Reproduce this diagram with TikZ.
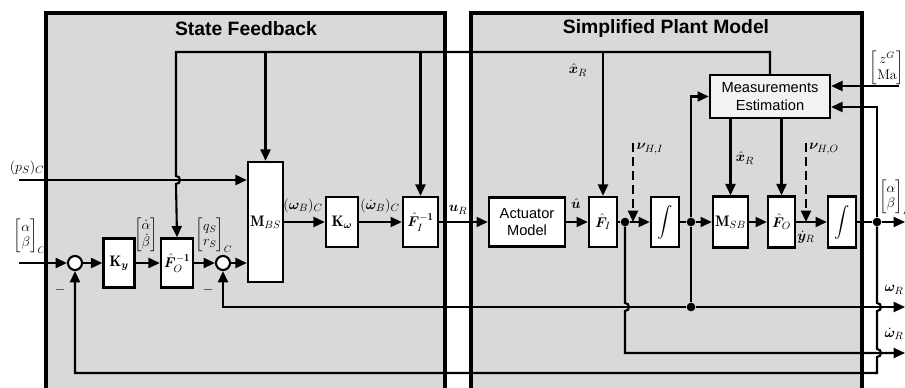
\documentclass[tikz,border=0pt]{standalone}
\usepackage{amsmath, amssymb, bm}
\usepackage{fontspec}
\newfontfamily\labelfont{Liberation Sans}
\usepackage{tikz}
\usetikzlibrary{arrows.meta, positioning}

\begin{document}
\begin{tikzpicture}[
  x=0.3mm, y=-0.3mm,
  panel/.style={draw, line width=3.4pt, fill=black!15},
  blk/.style={draw, line width=2pt, fill=white, inner sep=0pt},
  sumc/.style={circle, draw, line width=1.8pt, fill=white, minimum size=4.2mm, inner sep=0pt},
  jn/.style={circle, fill, minimum size=2.6mm, inner sep=0pt},
  ln/.style={line width=1.8pt},
  e/.style={-{Triangle[length=3.4mm, width=3mm]}, line width=1.8pt},
  nse/.style={e, dash pattern=on 2.6mm off 1.6mm},
  ttl/.style={font=\labelfont\bfseries\fontsize{16.5}{20}\selectfont},
  txt/.style={font=\labelfont\fontsize{12.5}{15}\selectfont, align=center},
  mat/.style={font=\fontsize{12}{13}\selectfont, inner sep=0pt},
  font=\fontsize{13}{15}\selectfont]
  \useasboundingbox (0,0) rectangle (905,387);
  % panels
  \draw[panel] (46,13) rectangle (445,392);
  \draw[panel] (471,13) rectangle (862,392);
  \node[ttl] at (246,29) {State Feedback};
  \node[ttl] at (666,29) {Simplified Plant Model};

  % state feedback blocks
  \node[sumc] (s1) at (75,263) {};
  \node[blk, minimum width=9.3mm, minimum height=14.7mm] (Ky) at (119,263) {$\mathbf{K}_{\bm{y}}$};
  \node[blk, minimum width=9.6mm, minimum height=14.7mm] (FOi) at (177,263) {$\hat{\bm{F}}_{O}^{\mathbf{-1}}$};
  \node[sumc] (s2) at (223,263) {};
  \node[blk, minimum width=10.5mm, minimum height=36mm] (MBS) at (265.5,222) {$\mathbf{M}_{BS}$};
  \node[blk, minimum width=9.6mm, minimum height=15mm] (Kw) at (342,222) {$\mathbf{K}_{\bm{\omega}}$};
  \node[blk, minimum width=10.5mm, minimum height=15mm] (FIi) at (420.5,222) {$\hat{\bm{F}}_{I}^{\mathbf{-1}}$};

  % plant blocks
  \node[blk, txt, minimum width=22.8mm, minimum height=14.7mm] (act) at (527,222) {Actuator\\Model};
  \node[blk, minimum width=8.4mm, minimum height=15mm] (FI) at (603,222) {$\hat{\bm{F}}_{I}$};
  \node[jn] (j1) at (625,222) {};
  \node[blk, minimum width=8.4mm, minimum height=15mm] (int1) at (665,222) {$\displaystyle\int$};
  \node[jn] (j2) at (691,222) {};
  \node[jn] (j3) at (691,307) {};
  \node[blk, minimum width=10.5mm, minimum height=15.3mm] (MSB) at (730.5,222) {$\mathbf{M}_{SB}$};
  \node[blk, minimum width=8.1mm, minimum height=15.3mm] (FO) at (781.5,222) {$\hat{\bm{F}}_{O}$};
  \node[blk, minimum width=8.4mm, minimum height=15.3mm] (int2) at (842,222) {$\displaystyle\int$};
  \node[jn] (j4) at (877,222) {};
  \node[blk, txt, fill=black!5, minimum width=36mm, minimum height=12.9mm] (meas) at (770,96.5) {Measurements\\Estimation};

  % free ends
  \coordinate (inab) at (19,263);
  \coordinate (inp) at (19,180);
  \coordinate (tp) at (176,52);
  \coordinate (fb) at (877,107);
  \coordinate (zin) at (899,86);
  \coordinate (nhi) at (633,143);
  \coordinate (nho) at (806,143);
  \coordinate (outab) at (905,222);
  \coordinate (ow) at (905,307);
  \coordinate (odw) at (905,353);

  % forward path
  \draw[e] (inab) -- (s1);
  \draw[e] (s1) -- (Ky);
  \draw[e] (Ky) -- (FOi);
  \draw[e] (FOi) -- (s2);
  \draw[e] (s2) -- (s2 -| MBS.west);
  \draw[e] (inp) -- (inp -| MBS.west);
  \draw[e] (MBS) -- (Kw);
  \draw[e] (Kw) -- (FIi);
  \draw[e] (FIi) -- (act);
  \draw[e] (act) -- (FI);
  \draw[ln] (FI) -- (j1);
  \draw[e] (j1) -- (int1);
  \draw[ln] (int1) -- (j2);
  \draw[e] (j2) -- (MSB);
  \draw[e] (MSB) -- (FO);
  \draw[e] (FO) -- (int2);
  \draw[ln] (int2) -- (j4);
  \draw[e] (j4) -- (outab);

  % estimated states back to the gains
  \draw[e] (meas.north) |- (tp) -- (176,176) to[out=0, in=0, looseness=1.7] (176,184) -- (FOi.north);
  \draw[e] (MBS.north |- tp) -- (MBS.north);
  \draw[e] (FIi.north |- tp) -- (FIi.north);
  \draw[e] (FI.north |- tp) -- (FI.north);

  % measurements estimation
  \draw[e] (j2) |- (meas.west);
  \draw[ln] (j2) -- (j3);
  \draw[e] (j4) -- (fb) -- (fb -| meas.east);
  \draw[e] (zin) -- (zin -| meas.east);
  \draw[e] (meas.south -| MSB.north) -- (MSB.north);
  \draw[e] (meas.south -| FO.north) -- (FO.north);
  \draw[nse] (nhi) -- (nhi |- j1);
  \draw[nse] (nho) -- (nho |- j4);

  % outputs and feedback
  \draw[e] (j3) -- (ow);
  \draw[e] (j3) -| (s2);
  \draw[e] (j1) -- (625,303) to[out=0, in=0, looseness=1.7] (625,311) -- (625,353) -- (odw);
  \draw[e] (j4) -- (877,303) to[out=0, in=0, looseness=1.7] (877,311) -- (877,349)
    to[out=0, in=0, looseness=1.7] (877,357) -- (877,373) -| (s1);

  % labels
  \node[mat] at (30,236) {$\begin{bmatrix}\alpha\\ \beta\end{bmatrix}_{C}$};
  \node at (27,168) {$(p_S)_C$};
  \node at (60,290) {$-$};
  \node at (208,290) {$-$};
  \node[mat] at (146,235) {$\begin{bmatrix}\dot{\alpha}\\ \dot{\beta}\end{bmatrix}$};
  \node[mat] at (214,235) {$\begin{bmatrix}q_S\\ r_S\end{bmatrix}_{C}$};
  \node at (303,206) {$(\bm{\omega}_B)_C$};
  \node at (380,206) {$(\dot{\bm{\omega}}_B)_C$};
  \node at (458,210) {$\bm{u}_R$};
  \node at (576,204) {$\hat{\bm{u}}$};
  \node at (578,70) {$\hat{\bm{x}}_R$};
  \node at (650,149) {$\bm{\nu}_{H,I}$};
  \node at (745,158) {$\hat{\bm{x}}_R$};
  \node at (824,149) {$\bm{\nu}_{H,O}$};
  \node at (806,237) {$\dot{\bm{y}}_R$};
  \node[mat] at (887,68) {$\begin{bmatrix}z^G\\ \mathrm{Ma}\end{bmatrix}$};
  \node[mat] at (895,197) {$\begin{bmatrix}\alpha\\ \beta\end{bmatrix}_{R}$};
  \node at (894,290) {$\bm{\omega}_R$};
  \node at (894,334) {$\dot{\bm{\omega}}_R$};
\end{tikzpicture}
\end{document}
